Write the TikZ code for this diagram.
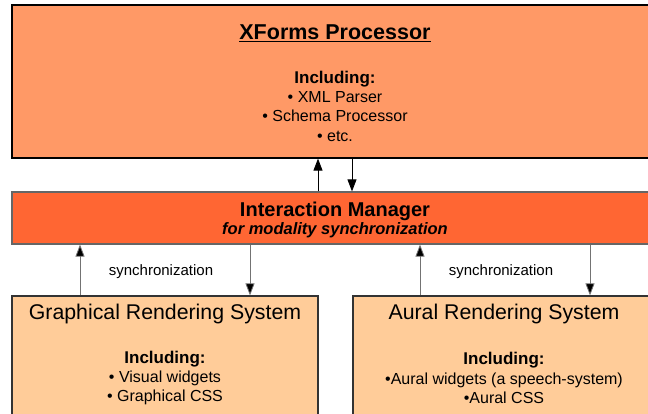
\documentclass[tikz,border=0pt]{standalone}
\usepackage{fontspec}
\setmainfont{Liberation Sans}
\usetikzlibrary{arrows.meta}
\definecolor{procfill}{HTML}{FF9966}
\definecolor{imfill}{HTML}{FF6633}
\definecolor{rendfill}{HTML}{FFCC99}

\begin{document}
\begin{tikzpicture}[x=1pt,y=-1pt,
	box/.style={draw, line width=1.2pt, inner sep=0pt},
	arr/.style={line width=0.8pt, -{Triangle[length=12pt,width=9pt]}},
	garr/.style={arr, draw=black!55, -{Triangle[length=12pt,width=9pt,fill=black]}},
	list/.style={align=center, font=\fontsize{16}{19.3}\selectfont},
	synclabel/.style={font=\fontsize{15}{16}\selectfont}]
	\path[use as bounding box, clip] (0,0) rectangle (648,413);
	% the four boxes, running off the right and lower edges
	\node[box, fill=procfill, minimum width=646pt, minimum height=153pt] (xforms) at (335,81.5) {};
	\node[box, draw=black!60, fill=imfill, minimum width=646pt, minimum height=52pt] (im) at (335,218) {};
	\node[box, draw=black!80, fill=rendfill, minimum width=306pt, minimum height=144pt] (graph) at (165,368) {};
	\node[box, draw=black!80, fill=rendfill, minimum width=304pt, minimum height=144pt] (aural) at (505,368) {};
	% texts
	\node[font=\fontsize{21.5}{24}\selectfont\bfseries] (xftitle) at (335,33) {\underline{XForms Processor}};
	\node[list] (xflist) at (335,106) {{\fontsize{17}{19.3}\selectfont\bfseries Including:}\\ • XML Parser\\ • Schema Processor\\ • etc.};
	\node[align=center] (imtext) at (335,220) {{\fontsize{20}{21}\selectfont\bfseries Interaction Manager}\\[1pt] {\fontsize{16.5}{21}\selectfont\bfseries\itshape for modality synchronization}};
	\node[font=\fontsize{21.3}{24}\selectfont] (grtitle) at (165,314) {Graphical Rendering System};
	\node[list] (grlist) at (165,378) {{\fontsize{17}{19.3}\selectfont\bfseries Including:}\\ • Visual widgets\\ • Graphical CSS};
	\node[font=\fontsize{21.3}{24}\selectfont] (autitle) at (504,314) {Aural Rendering System};
	\node[list] (aulist) at (504,378) {{\fontsize{17}{19.3}\selectfont\bfseries Including:}\\ •Aural widgets (a speech-system)\\ •Aural CSS};
	\node[synclabel] (gsync) at (161,272) {synchronization};
	\node[synclabel] (async) at (501,272) {synchronization};
	% connectors
	\coordinate (imup) at ([xshift=-17pt]im.north);
	\coordinate (imdown) at ([xshift=17pt]im.north);
	\draw[arr] (imup) -- (imup |- xforms.south);
	\draw[arr] (imdown |- xforms.south) -- (imdown);
	\coordinate (grup) at ([xshift=-85pt]graph.north);
	\coordinate (grdown) at ([xshift=85pt]graph.north);
	\draw[garr] (grup) -- (grup |- im.south);
	\draw[garr] (grdown |- im.south) -- (grdown);
	\coordinate (auup) at ([xshift=-85pt]aural.north);
	\coordinate (audown) at ([xshift=85pt]aural.north);
	\draw[garr] (auup) -- (auup |- im.south);
	\draw[garr] (audown |- im.south) -- (audown);
\end{tikzpicture}
\end{document}
